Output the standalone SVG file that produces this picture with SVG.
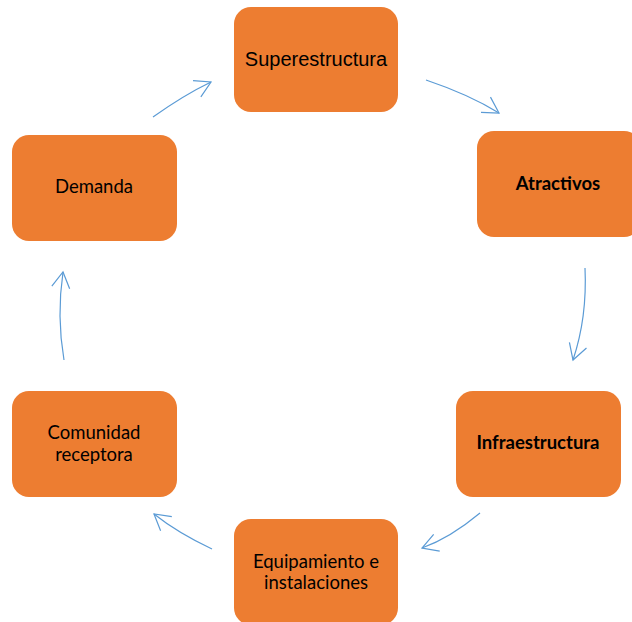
<svg xmlns="http://www.w3.org/2000/svg" width="632" height="622" viewBox="0 0 632 622">
<style>
.box{fill:#ED7D31;}
.t{font-family:Lato,"Open Sans","Liberation Sans",sans-serif;font-size:18.5px;fill:#000;text-anchor:middle;}
.b{font-weight:bold;}
.a{font-family:"Liberation Sans",Arial,sans-serif;font-size:20px;fill:#000;text-anchor:middle;}
.c{fill:none;stroke:#5B9BD5;stroke-width:1.2;marker-end:url(#ah);}
</style>
<defs>
<marker id="ah" markerUnits="userSpaceOnUse" orient="auto" refX="0" refY="0" markerWidth="40" markerHeight="40" viewBox="-20 -20 40 40" overflow="visible">
<path d="M -15.6 -9 L 0 0 L -15.6 9" fill="none" stroke="#5B9BD5" stroke-width="1.2"/>
</marker>
</defs>
<rect width="632" height="622" fill="#fff"/>
<g id="connectors">
<path class="c" d="M 153 117 Q 184 95 211 82"/>
<path class="c" d="M 426 80 Q 469.3 94.6 499 113"/>
<path class="c" d="M 585 268 Q 587.3 317.3 573 360"/>
<path class="c" d="M 480 513 Q 450.2 537.9 422 548"/>
<path class="c" d="M 212 549 Q 177.5 532.7 154 514"/>
<path class="c" d="M 64 360 Q 56.5 316.5 63 272"/>
</g>
<g id="superestructura">
<rect class="box" x="234" y="7" width="164" height="105" rx="17"/>
<text class="a" x="316" y="66">Superestructura</text>
</g>
<g id="atractivos">
<rect class="box" x="477" y="131" width="164" height="106" rx="17"/>
<text class="t b" x="558" y="190">Atractivos</text>
</g>
<g id="infraestructura">
<rect class="box" x="456" y="391" width="165" height="106" rx="17"/>
<text class="t b" x="538" y="449">Infraestructura</text>
</g>
<g id="equipamiento">
<rect class="box" x="234" y="519" width="164" height="106" rx="17"/>
<text class="t" x="316" y="568">Equipamiento e</text>
<text class="t" x="316" y="589">instalaciones</text>
</g>
<g id="comunidad">
<rect class="box" x="12" y="391" width="165" height="106" rx="17"/>
<text class="t" x="94" y="439">Comunidad</text>
<text class="t" x="94" y="461">receptora</text>
</g>
<g id="demanda">
<rect class="box" x="12" y="135" width="165" height="106" rx="17"/>
<text class="t" x="94" y="193">Demanda</text>
</g>
</svg>
